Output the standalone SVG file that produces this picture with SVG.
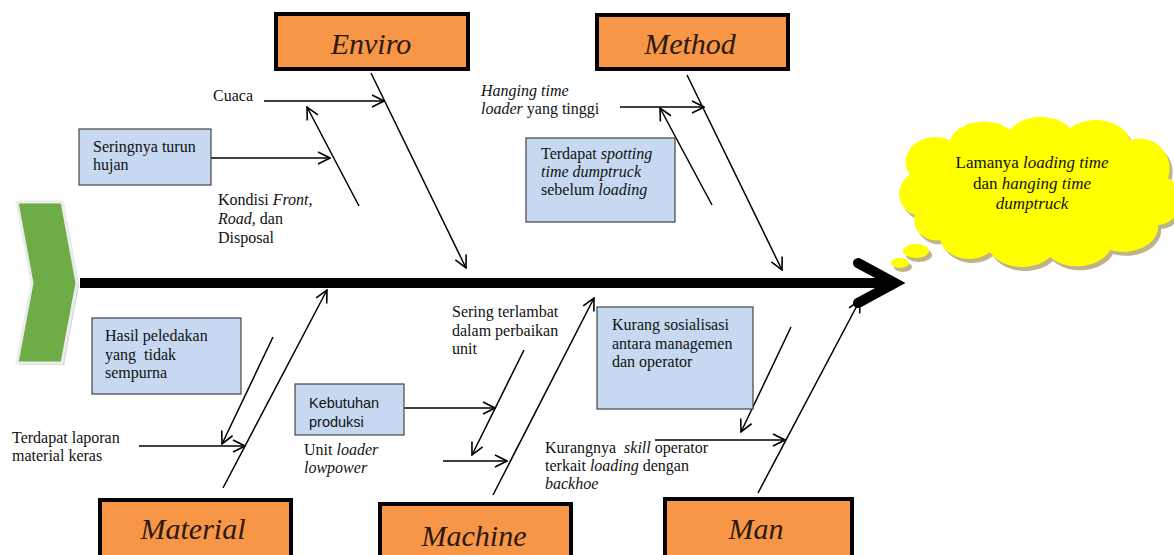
<svg xmlns="http://www.w3.org/2000/svg" width="1174" height="555" viewBox="0 0 1174 555">
<style>
.t{font-family:"Liberation Serif","Times New Roman",serif;font-size:16px;fill:#111;}
.s{font-family:"Liberation Sans",Arial,sans-serif;font-size:14.5px;fill:#111;}
.i{font-style:italic;}
.cat{font-family:"Liberation Serif","Times New Roman",serif;font-style:italic;font-size:30px;fill:#2a1a10;text-anchor:middle;}
.ob{fill:#F79646;stroke:#000;stroke-width:4;}
.bb{fill:#C6D9F1;stroke:#444;stroke-width:1.2;}
.ln{stroke:#000;stroke-width:1.5;fill:none;}
.ar{stroke:#000;stroke-width:1.5;fill:none;marker-end:url(#arr);}
</style>
<defs>
<marker id="arr" viewBox="0 0 14 14" refX="13" refY="7" markerWidth="14" markerHeight="14" markerUnits="userSpaceOnUse" orient="auto">
<path d="M1,1 L13,7 L1,13" fill="none" stroke="#000" stroke-width="1.6"/>
</marker>
</defs>
<rect width="1174" height="555" fill="#fff"/>

<g id="start">
<polygon points="19,204 64,204 79,285 64,365 19,365 34,285" fill="#cfcfcf"/>
<polygon points="17,202 62,202 77,283 62,363 17,363 32,283" fill="#6EAD46" stroke="#ececec" stroke-width="3"/>
</g>

<g id="connectors">
<line x1="80" y1="283" x2="890" y2="283" stroke="#000" stroke-width="10"/>
<polyline points="858,263 895,283 858,303" fill="none" stroke="#000" stroke-width="10" stroke-linecap="round"/>
<line class="ar" x1="371" y1="73" x2="466" y2="268"/>
<line class="ar" x1="264" y1="101" x2="384" y2="101"/>
<line class="ar" x1="359" y1="206" x2="307" y2="107"/>
<line class="ar" x1="211" y1="158" x2="330" y2="158"/>
<line class="ar" x1="687" y1="75" x2="782" y2="270"/>
<line class="ar" x1="620" y1="107" x2="704" y2="107"/>
<line class="ar" x1="712" y1="205" x2="660" y2="108"/>
<line class="ar" x1="223" y1="488" x2="327" y2="290"/>
<line class="ar" x1="273" y1="337" x2="222" y2="444"/>
<line class="ar" x1="139" y1="446" x2="245" y2="446"/>
<line class="ar" x1="493" y1="495" x2="594" y2="298"/>
<line class="ar" x1="524" y1="350" x2="472" y2="455"/>
<line class="ar" x1="404" y1="408" x2="495" y2="408"/>
<line class="ar" x1="443" y1="461" x2="507" y2="461"/>
<line class="ar" x1="758" y1="493" x2="860" y2="300"/>
<line class="ar" x1="791" y1="327" x2="741" y2="432"/>
<line class="ar" x1="655" y1="440" x2="785" y2="440"/>
</g>

<g id="enviro">
<rect class="ob" x="276" y="14" width="192" height="55"/>
<text class="cat" x="371" y="54">Enviro</text>
</g>
<g id="method">
<rect class="ob" x="597" y="15" width="191" height="54"/>
<text class="cat" x="690" y="54">Method</text>
</g>
<g id="material">
<rect class="ob" x="100" y="500" width="191" height="62"/>
<text class="cat" x="193" y="539">Material</text>
</g>
<g id="machine">
<rect class="ob" x="380" y="504" width="191" height="58"/>
<text class="cat" x="474" y="546">Machine</text>
</g>
<g id="man">
<rect class="ob" x="665" y="499" width="187" height="62"/>
<text class="cat" x="756" y="539">Man</text>
</g>

<g id="effect">
<g transform="translate(3,4)" fill="#bfb38a">
<path d="M915,215 A22,22 0 0 1 910,175 A30,25 0 0 1 950,140 A35,25 0 0 1 1010,130 A35,25 0 0 1 1070,128 A35,25 0 0 1 1130,140 A30,30 0 0 1 1168,178 A25,25 0 0 1 1158,225 A35,25 0 0 1 1110,250 A35,25 0 0 1 1050,257 A35,25 0 0 1 990,252 A30,25 0 0 1 940,240 A22,20 0 0 1 915,215 Z"/>
<ellipse cx="916" cy="251" rx="13" ry="7"/>
<ellipse cx="900" cy="263" rx="9" ry="5"/>
</g>
<g fill="#FFFF00">
<path d="M915,215 A22,22 0 0 1 910,175 A30,25 0 0 1 950,140 A35,25 0 0 1 1010,130 A35,25 0 0 1 1070,128 A35,25 0 0 1 1130,140 A30,30 0 0 1 1168,178 A25,25 0 0 1 1158,225 A35,25 0 0 1 1110,250 A35,25 0 0 1 1050,257 A35,25 0 0 1 990,252 A30,25 0 0 1 940,240 A22,20 0 0 1 915,215 Z"/>
<ellipse cx="916" cy="251" rx="13" ry="7"/>
<ellipse cx="900" cy="263" rx="9" ry="5"/>
</g>
<text class="t" x="1032" y="168" text-anchor="middle" style="font-size:17px">Lamanya <tspan class="i">loading time</tspan></text>
<text class="t" x="1032" y="189" text-anchor="middle" style="font-size:17px">dan <tspan class="i">hanging time</tspan></text>
<text class="t i" x="1032" y="209" text-anchor="middle" style="font-size:17px">dumptruck</text>
</g>

<g id="cuaca">
<text class="t" x="213" y="101">Cuaca</text>
</g>
<g id="seringnya-hujan">
<rect class="bb" x="79" y="129" width="132" height="56"/>
<text class="t" x="93" y="152">Seringnya turun</text>
<text class="t" x="93" y="170">hujan</text>
</g>
<g id="kondisi">
<text class="t" x="218" y="205">Kondisi <tspan class="i">Front,</tspan></text>
<text class="t" x="218" y="224"><tspan class="i">Road,</tspan> dan</text>
<text class="t" x="218" y="243">Disposal</text>
</g>
<g id="hanging-loader">
<text class="t i" x="481" y="96">Hanging time</text>
<text class="t" x="481" y="114"><tspan class="i">loader</tspan> yang tinggi</text>
</g>
<g id="spotting">
<rect class="bb" x="526" y="138" width="149" height="84"/>
<text class="t" x="541" y="159">Terdapat <tspan class="i">spotting</tspan></text>
<text class="t i" x="541" y="177">time dumptruck</text>
<text class="t" x="541" y="195">sebelum <tspan class="i">loading</tspan></text>
</g>
<g id="peledakan">
<rect class="bb" x="92" y="318" width="149" height="76"/>
<text class="t" x="105" y="341">Hasil peledakan</text>
<text class="t" x="105" y="360" xml:space="preserve">yang  tidak</text>
<text class="t" x="105" y="378">sempurna</text>
</g>
<g id="laporan">
<text class="t" x="12" y="443">Terdapat laporan</text>
<text class="t" x="12" y="461">material keras</text>
</g>
<g id="kebutuhan">
<rect class="bb" x="295" y="384" width="109" height="51"/>
<text class="s" x="309" y="408">Kebutuhan</text>
<text class="s" x="309" y="427">produksi</text>
</g>
<g id="lowpower">
<text class="t" x="304" y="455">Unit <tspan class="i">loader</tspan></text>
<text class="t i" x="304" y="473">lowpower</text>
</g>
<g id="perbaikan">
<text class="t" x="452" y="317">Sering terlambat</text>
<text class="t" x="452" y="336">dalam perbaikan</text>
<text class="t" x="452" y="354">unit</text>
</g>
<g id="sosialisasi">
<rect class="bb" x="597" y="307" width="156" height="102"/>
<text class="t" x="612" y="330">Kurang sosialisasi</text>
<text class="t" x="612" y="349">antara managemen</text>
<text class="t" x="612" y="367">dan operator</text>
</g>
<g id="skill">
<text class="t" x="545" y="453" xml:space="preserve">Kurangnya  <tspan class="i">skill</tspan> operator</text>
<text class="t" x="545" y="471">terkait <tspan class="i">loading</tspan> dengan</text>
<text class="t i" x="545" y="489">backhoe</text>
</g>
</svg>
